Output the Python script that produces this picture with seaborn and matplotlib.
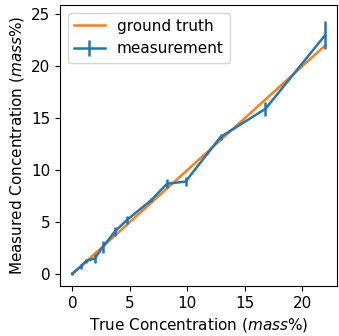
import numpy as np
import seaborn as sns
import matplotlib
matplotlib.use("Agg")
import matplotlib.pyplot as plt

# true vs measured concentration (mass%)
true_conc = [0.0, 0.75, 1.2, 1.95, 2.65, 3.7, 4.75, 6.85, 8.25, 9.85, 12.9, 16.8, 22.0]
measured = [0.05, 0.75, 1.25, 1.5, 2.6, 4.1, 5.2, 7.1, 8.7, 8.9, 13.2, 15.9, 23.0]
meas_err = [0.1, 0.25, 0.2, 0.4, 0.6, 0.45, 0.35, 0.2, 0.4, 0.4, 0.3, 0.65, 1.35]
truth = [0.0, 22.0]

plt.rcParams.update({"font.size": 11, "lines.linewidth": 1.8})

fig = plt.figure(figsize=(3.39, 3.36), dpi=100)
plt.subplots_adjust(left=0.178, right=0.993, bottom=0.149, top=0.985)
ax = fig.gca()

sns.lineplot(x=truth, y=truth, ax=ax, color="C1", label="ground truth")
ax.errorbar(true_conc, measured, yerr=meas_err, color="C0", label="measurement")

ax.set_xlabel("True Concentration ($mass$%)")
ax.set_ylabel("Measured Concentration ($mass$%)")
ax.set_xticks([0, 5, 10, 15, 20])
ax.set_yticks([0, 5, 10, 15, 20, 25])
ax.set_xlim(-1.05, 23.0)
ax.set_ylim(-1.15, 25.9)
ax.legend(loc="upper left")

fig.savefig("out.png", dpi=100)
